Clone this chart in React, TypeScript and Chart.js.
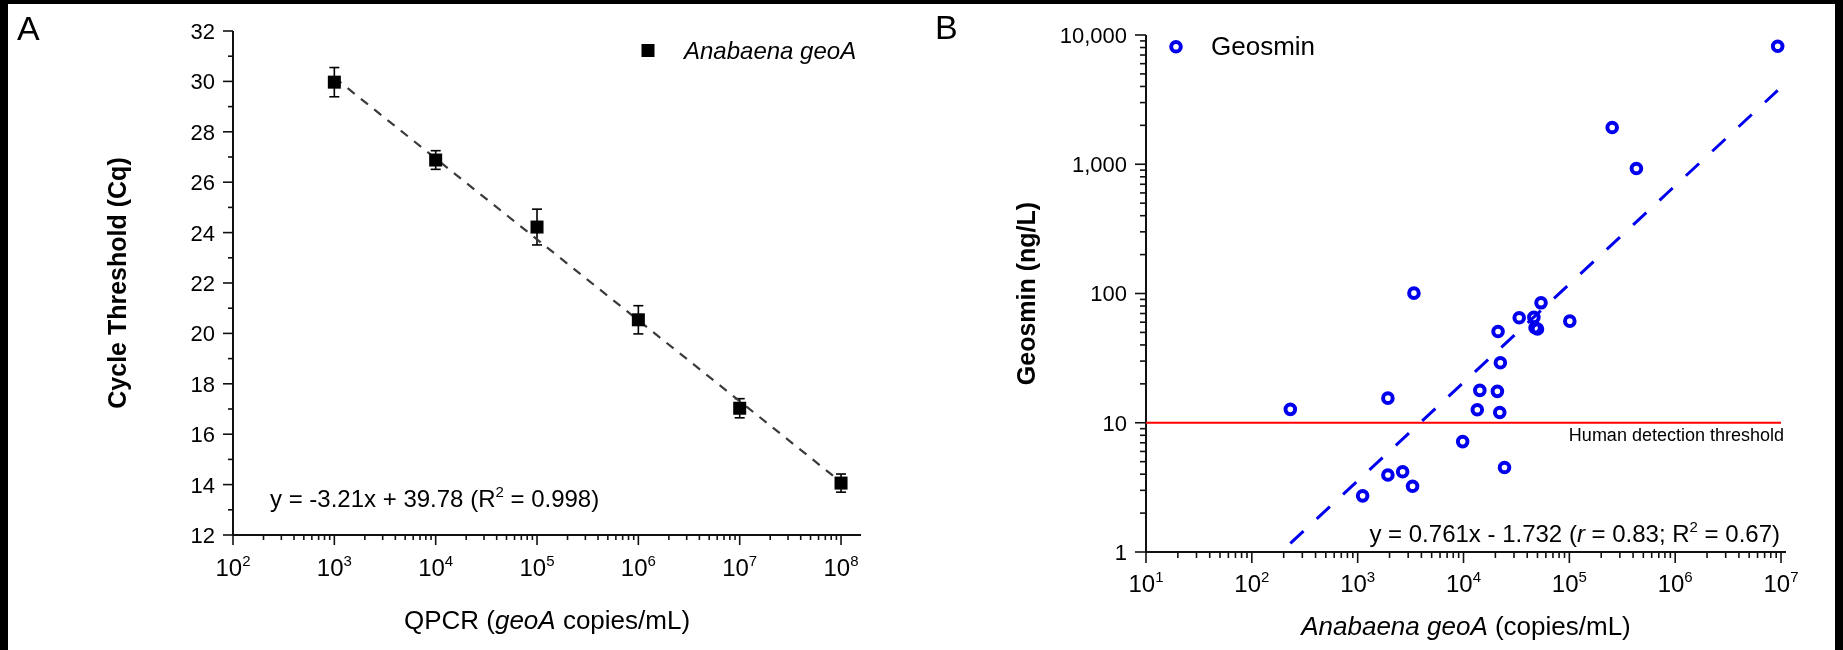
import React, { useEffect, useRef } from 'react';
import { Chart, registerables } from 'chart.js';

Chart.register(...registerables);

// ---------- Panel A data ----------
const qpcrCopies = [1e3, 1e4, 1e5, 1e6, 1e7, 1e8];
const cycleThreshold = [29.97, 26.88, 24.22, 20.54, 17.03, 14.06];
const cycleThresholdErr = [0.58, 0.37, 0.71, 0.56, 0.38, 0.36];
const cqTicks = [12, 14, 16, 18, 20, 22, 24, 26, 28, 30, 32];
const cqXExponents = [2, 3, 4, 5, 6, 7, 8];
const fitASlope = -3.21;
const fitAIntercept = 39.78;

// ---------- Panel B data ----------
const geoACopies = [9.3e6, 2.54e5, 4.3e5, 3400, 54000, 33600, 46200, 101000, 47400, 50000, 21200, 22300,
  14260, 20900, 231, 1930, 13500, 22000, 9820, 24400, 1930, 2660, 3300, 1114];
const geosminNgL = [8180, 1923, 927, 100.6, 84.7, 64.9, 65.3, 61.1, 54.3, 53.1, 50.8, 29.1,
  17.8, 17.5, 12.7, 15.5, 12.6, 12.0, 7.15, 4.51, 3.94, 4.18, 3.23, 2.72];
const geosminTicks = [1, 10, 100, 1000, 10000];
const geosminTickLabels = ['1', '10', '100', '1,000', '10,000'];
const geoXExponents = [1, 2, 3, 4, 5, 6, 7];
const fitBSlope = 0.761;
const fitBIntercept = -1.732;
const detectionThreshold = 10;

const FONT = '"Liberation Sans", Arial, Helvetica, sans-serif';

type Seg = { t: string; italic?: boolean; bold?: boolean; sup?: boolean };

function segFont(s: Seg, size: number) {
  const sz = s.sup ? Math.round(size * 0.62) : size;
  return `${s.italic ? 'italic ' : ''}${s.bold ? 'bold ' : ''}${sz}px ${FONT}`;
}

function richWidth(ctx: CanvasRenderingContext2D, segs: Seg[], size: number) {
  let w = 0;
  for (const s of segs) {
    ctx.font = segFont(s, size);
    w += ctx.measureText(s.t).width;
  }
  return w;
}

function drawRich(ctx: CanvasRenderingContext2D, segs: Seg[], x: number, baseline: number, size: number,
  align: 'left' | 'center' | 'right' = 'left', color = '#000') {
  const w = richWidth(ctx, segs, size);
  let cx = align === 'left' ? x : align === 'center' ? x - w / 2 : x - w;
  ctx.save();
  ctx.fillStyle = color;
  ctx.textAlign = 'left';
  ctx.textBaseline = 'alphabetic';
  for (const s of segs) {
    ctx.font = segFont(s, size);
    ctx.fillText(s.t, cx, s.sup ? baseline - size * 0.42 : baseline);
    cx += ctx.measureText(s.t).width;
  }
  ctx.restore();
}

function line(ctx: CanvasRenderingContext2D, x1: number, y1: number, x2: number, y2: number) {
  ctx.beginPath();
  ctx.moveTo(x1, y1);
  ctx.lineTo(x2, y2);
  ctx.stroke();
}

type AxisCfg = {
  yMajor: number[];
  yLabels: string[];
  yMinor: number[];
  xExps: number[];
  xMinor: number[];
  yLabelSize: number;
  xLabelSize: number;
  xLabelBaselineOffset: number;
  majorLen: number;
  minorLen: number;
};

function drawAxes(chart: any, cfg: AxisCfg) {
  const ctx: CanvasRenderingContext2D = chart.ctx;
  const { left, right, top, bottom } = chart.chartArea;
  const xs = chart.scales.x;
  const ys = chart.scales.y;
  ctx.save();
  ctx.strokeStyle = '#111';
  ctx.lineWidth = 2;
  ctx.lineCap = 'butt';
  line(ctx, left, top, left, bottom + 1);
  line(ctx, left - 1, bottom, right, bottom);
  ctx.lineWidth = 1.6;
  for (const v of cfg.yMajor) {
    const y = ys.getPixelForValue(v);
    line(ctx, left - cfg.majorLen, y, left, y);
  }
  for (const v of cfg.yMinor) {
    const y = ys.getPixelForValue(v);
    line(ctx, left - cfg.minorLen, y, left, y);
  }
  for (const e of cfg.xExps) {
    const x = xs.getPixelForValue(Math.pow(10, e));
    line(ctx, x, bottom, x, bottom + cfg.majorLen);
  }
  for (const v of cfg.xMinor) {
    const x = xs.getPixelForValue(v);
    line(ctx, x, bottom, x, bottom + cfg.minorLen);
  }
  ctx.fillStyle = '#000';
  ctx.font = `${cfg.yLabelSize}px ${FONT}`;
  ctx.textAlign = 'right';
  ctx.textBaseline = 'alphabetic';
  cfg.yMajor.forEach((v, i) => {
    const y = ys.getPixelForValue(v);
    ctx.fillText(cfg.yLabels[i], left - cfg.majorLen - 8, y + cfg.yLabelSize * 0.36);
  });
  for (const e of cfg.xExps) {
    const x = xs.getPixelForValue(Math.pow(10, e));
    drawRich(ctx, [{ t: '10' }, { t: String(e), sup: true }], x, bottom + cfg.xLabelBaselineOffset,
      cfg.xLabelSize, 'center');
  }
  ctx.restore();
}

function minorLog(fromExp: number, toExp: number, maxVal: number) {
  const out: number[] = [];
  for (let e = fromExp; e < toExp; e++) {
    for (let k = 2; k <= 9; k++) {
      const v = k * Math.pow(10, e);
      if (v <= maxVal) out.push(v);
    }
  }
  return out;
}

function makeChartA(canvas: HTMLCanvasElement) {
  const xMax = Math.pow(10, 8.197);
  const points = qpcrCopies.map((x, i) => ({ x, y: cycleThreshold[i] }));
  const fit = [qpcrCopies[0], qpcrCopies[qpcrCopies.length - 1]].map((x) => ({
    x,
    y: fitASlope * Math.log10(x) + fitAIntercept,
  }));
  const cqMinor = cqTicks.slice(0, -1).map((v) => v + 1);
  const axisPlugin = {
    id: 'axesA',
    beforeDatasetsDraw(chart: any) {
      drawAxes(chart, {
        yMajor: cqTicks,
        yLabels: cqTicks.map(String),
        yMinor: cqMinor,
        xExps: cqXExponents,
        xMinor: minorLog(2, 9, xMax),
        yLabelSize: 22,
        xLabelSize: 24,
        xLabelBaselineOffset: 41,
        majorLen: 10,
        minorLen: 5,
      });
      const ctx: CanvasRenderingContext2D = chart.ctx;
      const xs = chart.scales.x;
      const ys = chart.scales.y;
      ctx.save();
      ctx.strokeStyle = '#000';
      ctx.lineWidth = 1.6;
      qpcrCopies.forEach((xv, i) => {
        const x = xs.getPixelForValue(xv);
        const yT = ys.getPixelForValue(cycleThreshold[i] + cycleThresholdErr[i]);
        const yB = ys.getPixelForValue(cycleThreshold[i] - cycleThresholdErr[i]);
        line(ctx, x, yT, x, yB);
        line(ctx, x - 5, yT, x + 5, yT);
        line(ctx, x - 5, yB, x + 5, yB);
      });
      ctx.restore();
    },
    afterDraw(chart: any) {
      const ctx: CanvasRenderingContext2D = chart.ctx;
      const { left, right, top, bottom } = chart.chartArea;
      drawRich(ctx, [{ t: 'A' }], 17, 40, 34, 'left');
      ctx.save();
      ctx.fillStyle = '#000';
      ctx.fillRect(648 - 6.5, 50.5 - 6.5, 13, 13);
      ctx.restore();
      drawRich(ctx, [{ t: 'Anabaena geoA', italic: true }], 684, 50 + 8.6, 24, 'left');
      drawRich(ctx, [{ t: 'y = -3.21x + 39.78 (R' }, { t: '2', sup: true }, { t: ' = 0.998)' }], 270, 498 + 8.6, 24, 'left');
      drawRich(ctx, [{ t: 'QPCR (' }, { t: 'geoA', italic: true }, { t: ' copies/mL)' }], (left + right) / 2, 620 + 9.4, 26, 'center');
      ctx.save();
      ctx.translate(117, (top + bottom) / 2);
      ctx.rotate(-Math.PI / 2);
      drawRich(ctx, [{ t: 'Cycle Threshold (Cq)', bold: true }], 0, 9, 25, 'center');
      ctx.restore();
    },
  };
  return new Chart(canvas, {
    type: 'scatter',
    data: {
      datasets: [
        {
          type: 'line',
          data: fit,
          borderColor: '#3a3a3a',
          borderWidth: 2.2,
          borderDash: [9, 8],
          pointRadius: 0,
          fill: false,
          order: 2,
        } as any,
        {
          data: points,
          pointStyle: 'rect',
          pointRadius: 9.2,
          backgroundColor: '#000',
          borderColor: '#000',
          borderWidth: 0,
          order: 1,
          clip: false,
        } as any,
      ],
    },
    options: {
      animation: false,
      responsive: false,
      maintainAspectRatio: false,
      events: [],
      devicePixelRatio: 1,
      layout: { padding: { left: 233, right: 921 - 861, top: 31, bottom: 650 - 535 } },
      plugins: { legend: { display: false }, tooltip: { enabled: false } },
      scales: {
        x: { type: 'logarithmic', min: 100, max: xMax, display: false },
        y: { type: 'linear', min: 12, max: 32, display: false },
      },
    },
    plugins: [axisPlugin],
  });
}

function makeChartB(canvas: HTMLCanvasElement) {
  const xMax = Math.pow(10, 7.047);
  const points = geoACopies.map((x, i) => ({ x, y: geosminNgL[i] }));
  const xLo = Math.min(...geoACopies);
  const xHi = Math.max(...geoACopies);
  const fit = [xLo, xHi].map((x) => ({ x, y: Math.pow(10, fitBSlope * Math.log10(x) + fitBIntercept) }));
  const threshold = [{ x: 10, y: detectionThreshold }, { x: 1e7, y: detectionThreshold }];
  const axisPlugin = {
    id: 'axesB',
    beforeDatasetsDraw(chart: any) {
      drawAxes(chart, {
        yMajor: geosminTicks,
        yLabels: geosminTickLabels,
        yMinor: minorLog(0, 4, 10000),
        xExps: geoXExponents,
        xMinor: minorLog(1, 7, xMax),
        yLabelSize: 22,
        xLabelSize: 24,
        xLabelBaselineOffset: 40,
        majorLen: 11,
        minorLen: 6,
      });
    },
    afterDraw(chart: any) {
      const ctx: CanvasRenderingContext2D = chart.ctx;
      const { left, right, top, bottom } = chart.chartArea;
      const ys = chart.scales.y;
      drawRich(ctx, [{ t: 'B' }], 14, 39, 34, 'left');
      ctx.save();
      ctx.strokeStyle = '#0000ee';
      ctx.lineWidth = 4;
      ctx.beginPath();
      ctx.arc(255, 46.7, 4.8, 0, Math.PI * 2);
      ctx.stroke();
      ctx.restore();
      drawRich(ctx, [{ t: 'Geosmin' }], 290, 46 + 9.4, 26, 'left');
      const ty = ys.getPixelForValue(detectionThreshold);
      drawRich(ctx, [{ t: 'Human detection threshold' }], 863, ty + 12 + 6.5, 18, 'right');
      drawRich(ctx, [
        { t: 'y = 0.761x - 1.732 (' },
        { t: 'r', italic: true },
        { t: ' = 0.83; R' },
        { t: '2', sup: true },
        { t: ' = 0.67)' },
      ], 859, 533 + 8.6, 24, 'right');
      drawRich(ctx, [{ t: 'Anabaena geoA', italic: true }, { t: ' (copies/mL)' }], (left + right) / 2, 626 + 9.4, 26, 'center');
      ctx.save();
      ctx.translate(105, (top + bottom) / 2);
      ctx.rotate(-Math.PI / 2);
      drawRich(ctx, [{ t: 'Geosmin (ng/L)', bold: true }], 0, 9, 25, 'center');
      ctx.restore();
    },
  };
  return new Chart(canvas, {
    type: 'scatter',
    data: {
      datasets: [
        {
          type: 'line',
          data: threshold,
          borderColor: '#ff0000',
          borderWidth: 2,
          pointRadius: 0,
          fill: false,
          order: 3,
        } as any,
        {
          type: 'line',
          data: fit,
          borderColor: '#0000ee',
          borderWidth: 3,
          borderDash: [18, 18],
          pointRadius: 0,
          fill: false,
          order: 2,
        } as any,
        {
          data: points,
          pointStyle: 'circle',
          pointRadius: 4.8,
          backgroundColor: 'rgba(0,0,0,0)',
          borderColor: '#0000ee',
          borderWidth: 4,
          order: 1,
          clip: false,
        } as any,
      ],
    },
    options: {
      animation: false,
      responsive: false,
      maintainAspectRatio: false,
      events: [],
      devicePixelRatio: 1,
      layout: { padding: { left: 1146 - 921, right: 922 - (1786 - 921), top: 35, bottom: 650 - 552 } },
      plugins: { legend: { display: false }, tooltip: { enabled: false } },
      scales: {
        x: { type: 'logarithmic', min: 10, max: xMax, display: false },
        y: { type: 'logarithmic', min: 1, max: 10000, display: false },
      },
    },
    plugins: [axisPlugin],
  });
}

export default function App() {
  const refA = useRef<HTMLCanvasElement>(null);
  const refB = useRef<HTMLCanvasElement>(null);
  useEffect(() => {
    document.documentElement.style.overflow = 'hidden';
    const a = makeChartA(refA.current!);
    const b = makeChartB(refB.current!);
    return () => {
      a.destroy();
      b.destroy();
    };
  }, []);
  return (
    <div style={{ position: 'absolute', left: 0, top: 0, width: 1843, height: 650, background: '#000', overflow: 'hidden' }}>
      <div style={{ position: 'absolute', left: 8, top: 4, width: 1827, height: 646, background: '#fff' }} />
      <canvas ref={refA} width={921} height={650} style={{ position: 'absolute', left: 0, top: 0, width: 921, height: 650 }} />
      <canvas ref={refB} width={922} height={650} style={{ position: 'absolute', left: 921, top: 0, width: 922, height: 650 }} />
    </div>
  );
}
